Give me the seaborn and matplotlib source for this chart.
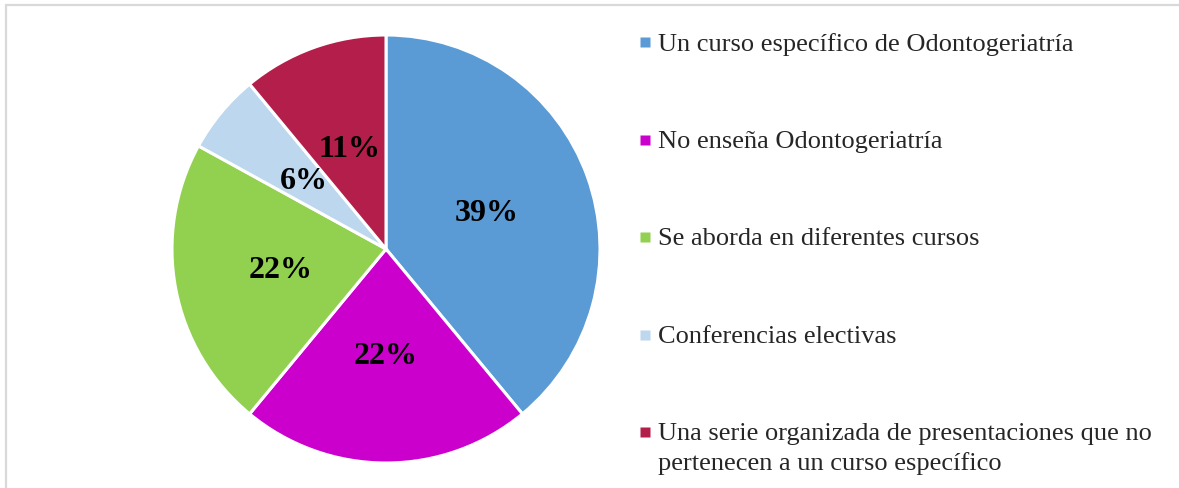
"""Pie chart: how Odontogeriatría is taught (share of schools)."""

import matplotlib.pyplot as plt
import seaborn as sns
from matplotlib.lines import Line2D
from matplotlib.patches import Rectangle

sns.set_theme(style="white")
plt.rcParams["font.family"] = ["Liberation Serif", "DejaVu Serif"]

categories = [
    "Un curso específico de Odontogeriatría",
    "No enseña Odontogeriatría",
    "Se aborda en diferentes cursos",
    "Conferencias electivas",
    "Una serie organizada de presentaciones que no\npertenecen a un curso específico",
]
shares = [39, 22, 22, 6, 11]
colours = ["#5B9BD5", "#CC00CC", "#92D050", "#BDD7EE", "#B31E4B"]

W, H = 1179, 489
fig = plt.figure(figsize=(W / 100, H / 100), dpi=100)

# pie centred at (386, 250) px with radius 214 px
cx, cy, r = 386, 250, 214
ax = fig.add_axes([(cx - r) / W, (H - cy - r) / H, 2 * r / W, 2 * r / H])
wedges, _, pct = ax.pie(
    shares, colors=colours, startangle=90, counterclock=False,
    autopct="%1.0f%%", pctdistance=0.5, radius=1,
    wedgeprops=dict(edgecolor="white", linewidth=2.2),
    textprops=dict(fontsize=23, fontweight="bold", color="black"),
)
ax.set_xlim(-1, 1)
ax.set_ylim(-1, 1)
ax.set_aspect("equal")

handles = [Line2D([], [], marker="s", linestyle="none", markersize=6.5,
                  markerfacecolor=c, markeredgecolor="none") for c in colours]
leg = fig.legend(
    handles, categories, loc="upper left",
    bbox_to_anchor=(640 / W, 1 - 33 / H),
    frameon=False, fontsize=19,
    handlelength=0.4, handleheight=1.0, handletextpad=0.3,
    labelspacing=2.8, borderpad=0, borderaxespad=0,
)
for t in leg.get_texts():
    t.set_linespacing(1.4)
# keep the marker level with the first line of a wrapped label
for item in leg._legend_handle_box.get_children()[0].get_children():
    item.align = "top"

# chart-area border (only top and left edges visible in the crop)
fig.patches.append(Rectangle(
    (5.5 / W, -0.1), 1.2, 1.1 - 5.5 / H, transform=fig.transFigure,
    fill=False, edgecolor="#D9D9D9", linewidth=1.6,
))

fig.savefig("out.png", dpi=100)
